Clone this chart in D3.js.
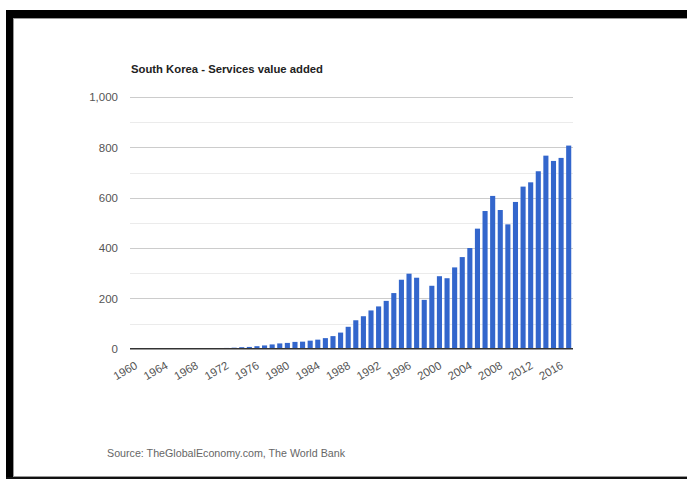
<!DOCTYPE html>
<html>
<head>
<meta charset="utf-8">
<script src="https://cdn.jsdelivr.net/npm/d3@7"></script>
<style>
  html, body { margin: 0; padding: 0; background: #fff; }
  svg { display: block; }
</style>
</head>
<body>
<svg id="chart" width="687" height="479"></svg>
<script>
// ---- Data ----
const years = d3.range(1960, 2018);
const values = [
  1.0, 0.7, 0.8, 1.0, 0.9, 0.8, 1.0, 1.2, 1.5, 1.8,
  2.0, 2.5, 3.0, 4.0, 6.0, 7.0, 10, 13, 17, 21,
  23, 27, 28, 32, 36, 42, 50, 64, 87, 113,
  129, 152, 168, 190, 221, 274, 298, 282, 194, 250,
  288, 280, 323, 364, 400, 477, 547, 607, 551, 494,
  583, 644, 661, 705, 767, 746, 758, 807
];
const yTicks = [0, 200, 400, 600, 800, 1000];
const yMinorTicks = [100, 300, 500, 700, 900];
const xTickYears = d3.range(1960, 2017, 4);
const titleText = "South Korea - Services value added";
const sourceText = "Source: TheGlobalEconomy.com, The World Bank";

// ---- Drawing ----
const svg = d3.select("#chart");
const font = "'Liberation Sans', Arial, sans-serif";

// frame
svg.append("rect").attr("x", 6).attr("y", 10).attr("width", 681).attr("height", 8).attr("fill", "#000");
svg.append("rect").attr("x", 6).attr("y", 10).attr("width", 7).attr("height", 469).attr("fill", "#000");
svg.append("rect").attr("x", 6).attr("y", 477).attr("width", 681).attr("height", 2).attr("fill", "#111");
svg.append("line").attr("x1", 13).attr("x2", 687).attr("y1", 18.5).attr("y2", 18.5).attr("stroke", "#999").attr("stroke-width", 1);
svg.append("line").attr("x1", 13.5).attr("x2", 13.5).attr("y1", 18).attr("y2", 477).attr("stroke", "#999").attr("stroke-width", 1);
svg.append("line").attr("x1", 13).attr("x2", 687).attr("y1", 476.5).attr("y2", 476.5).attr("stroke", "#999").attr("stroke-width", 1);

const x = d3.scaleBand().domain(years).range([131.5, 572.5]).paddingInner(0.33).paddingOuter(0.165);
const y = d3.scaleLinear().domain([0, 1000]).range([348.7, 97]);

const gx0 = 130, gx1 = 573;

// minor gridlines
svg.append("g").selectAll("line").data(yMinorTicks).join("line")
  .attr("x1", gx0).attr("x2", gx1)
  .attr("y1", d => Math.round(y(d)) + 0.5).attr("y2", d => Math.round(y(d)) + 0.5)
  .attr("stroke", "#ebebeb").attr("stroke-width", 1);

// major gridlines + y labels via axis
const yAxis = d3.axisLeft(y).tickValues(yTicks).tickSize(0).tickFormat(d3.format(","));
const gy = svg.append("g").attr("transform", `translate(${gx0},0)`).call(yAxis);
gy.select(".domain").remove();
gy.selectAll(".tick text")
  .attr("x", -12)
  .attr("fill", "#555")
  .style("font-family", font)
  .style("font-size", "11.5px");
svg.append("g").selectAll("line").data(yTicks.filter(d => d > 0)).join("line")
  .attr("x1", gx0).attr("x2", gx1)
  .attr("y1", d => Math.round(y(d)) + 0.5).attr("y2", d => Math.round(y(d)) + 0.5)
  .attr("stroke", "#cccccc").attr("stroke-width", 1);

// bars
svg.append("g").selectAll("rect").data(years).join("rect")
  .attr("x", d => x(d))
  .attr("width", x.bandwidth())
  .attr("y", (d, i) => y(values[i]))
  .attr("height", (d, i) => y(0) - y(values[i]))
  .attr("fill", "#3366cc");

// baseline
svg.append("line").attr("x1", gx0).attr("x2", gx1)
  .attr("y1", y(0)).attr("y2", y(0))
  .attr("stroke", "#333").attr("stroke-width", 1.5);

// x labels
const xAxis = d3.axisBottom(x).tickValues(xTickYears).tickSize(0);
const gxa = svg.append("g").attr("transform", `translate(0,${y(0)})`).call(xAxis);
gxa.select(".domain").remove();
gxa.selectAll(".tick text")
  .attr("y", 0).attr("dy", 0)
  .attr("text-anchor", "end")
  .attr("transform", "translate(3,19) rotate(-30)")
  .attr("fill", "#555")
  .style("font-family", font)
  .style("font-size", "11.5px");

// title
svg.append("text")
  .attr("x", 131).attr("y", 73)
  .attr("textLength", 192).attr("lengthAdjust", "spacingAndGlyphs")
  .attr("fill", "#222")
  .style("font-family", font)
  .style("font-size", "11.5px")
  .style("font-weight", "bold")
  .text(titleText);

// source
svg.append("text")
  .attr("x", 107).attr("y", 457)
  .attr("fill", "#666")
  .style("font-family", font)
  .style("font-size", "10.7px")
  .text(sourceText);
</script>
</body>
</html>
